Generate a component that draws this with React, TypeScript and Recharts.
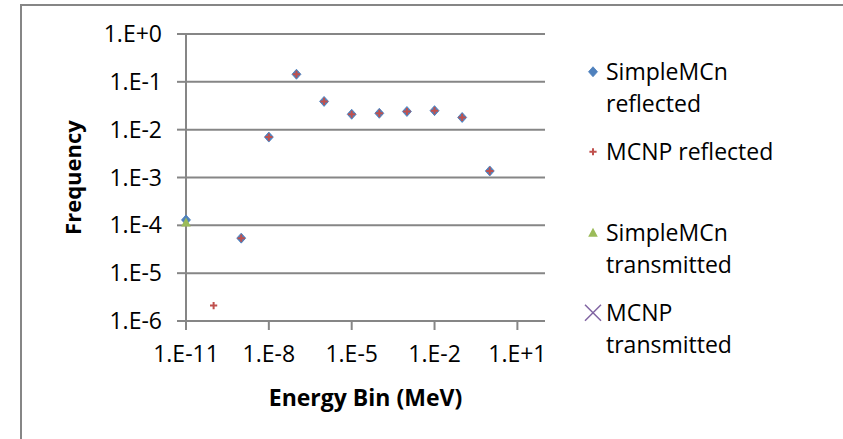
import { CartesianGrid, Legend, Scatter, ScatterChart, XAxis, YAxis } from "recharts";

// energy bin (MeV) of each tally point
const energyBins = [1e-11, 1e-10, 1e-9, 1e-8, 1e-7, 1e-6, 1e-5, 1e-4, 1e-3, 1e-2, 1e-1, 1];

// frequencies per bin, null where nothing was tallied
const simpleMCnReflected = [1.3e-4, null, 5.4e-5, 7.0e-3, 0.144, 0.039, 0.021, 0.022, 0.024, 0.025, 0.018, 1.37e-3];
const mcnpReflected = [null, 2.1e-6, 5.4e-5, 7.0e-3, 0.144, 0.039, 0.021, 0.022, 0.024, 0.025, 0.018, 1.37e-3];
const simpleMCnTransmitted = [1.15e-4, null, null, null, null, null, null, null, null, null, null, null];
const mcnpTransmitted = [null, null, null, null, null, null, null, null, null, null, null, null];

const seriesNames = ["SimpleMCn reflected", "MCNP reflected", "SimpleMCn transmitted", "MCNP transmitted"];

const xTicks = [1e-11, 1e-8, 1e-5, 1e-2, 1e1];
const yTicks = [1e-6, 1e-5, 1e-4, 1e-3, 1e-2, 1e-1, 1];

const WIDTH = 843;
const HEIGHT = 439;
const PLOT = { left: 186, top: 34, right: 545, bottom: 321 };
const Y_AXIS_W = 166;
const X_AXIS_H = 60;
const FONT = "'Open Sans', sans-serif";
const LINE = "#868686";

type Pt = { x: number; y: number };

const toPoints = (ys: (number | null)[]): Pt[] =>
  energyBins.flatMap((x, i) => {
    const y = ys[i];
    return y == null ? [] : [{ x, y }];
  });

const sciLabel = (v: number) => {
  const exp = Math.round(Math.log10(v));
  return `1.E${exp >= 0 ? "+" : ""}${exp}`;
};

type ShapeProps = { cx?: number; cy?: number };

const Diamond = ({ cx = 0, cy = 0 }: ShapeProps) => (
  <path
    d={`M${cx},${cy - 5}L${cx + 4.5},${cy}L${cx},${cy + 5}L${cx - 4.5},${cy}Z`}
    fill="#4F81BD"
    stroke="#4A7EBB"
    strokeWidth={0.8}
  />
);

const Plus = ({ cx = 0, cy = 0 }: ShapeProps) => (
  <path d={`M${cx - 3.6},${cy}H${cx + 3.6}M${cx},${cy - 3.6}V${cy + 3.6}`} stroke="#C0504D" strokeWidth={2} fill="none" />
);

const Triangle = ({ cx = 0, cy = 0 }: ShapeProps) => (
  <path d={`M${cx},${cy - 5}L${cx + 4.8},${cy + 4}L${cx - 4.8},${cy + 4}Z`} fill="#9BBB59" />
);

const Cross = ({ cx = 0, cy = 0 }: ShapeProps) => (
  <path
    d={`M${cx - 4},${cy - 4}L${cx + 4},${cy + 4}M${cx - 4},${cy + 4}L${cx + 4},${cy - 4}`}
    stroke="#8064A2"
    strokeWidth={1.5}
    fill="none"
  />
);

const BigCross = ({ cx = 0, cy = 0 }: ShapeProps) => (
  <path
    d={`M${cx - 8},${cy - 8}L${cx + 8},${cy + 8}M${cx - 8},${cy + 8}L${cx + 8},${cy - 8}`}
    stroke="#8064A2"
    strokeWidth={1.5}
    fill="none"
  />
);

const legendMarkers = [Diamond, Plus, Triangle, BigCross];
const legendTops = [56, 136, 217, 297];

function SeriesLegend() {
  return (
    <div
      style={{
        position: "relative",
        width: 260,
        height: HEIGHT,
        fontFamily: FONT,
        fontSize: 23,
        lineHeight: "31.5px",
        color: "#000",
      }}
    >
      {seriesNames.map((name, i) => {
        const Marker = legendMarkers[i];
        return (
          <div key={name} style={{ position: "absolute", left: 0, top: legendTops[i], display: "flex" }}>
            <svg width={26} height={31.5} style={{ flex: "none" }}>
              <Marker cx={13} cy={15.75} />
            </svg>
            <div style={{ width: 180 }}>{name}</div>
          </div>
        );
      })}
    </div>
  );
}

export default function App() {
  const plotMidY = (PLOT.top + PLOT.bottom) / 2;
  const plotMidX = (PLOT.left + PLOT.right) / 2;

  return (
    <div style={{ position: "absolute", left: 0, top: 0, width: WIDTH, height: HEIGHT, background: "#fff" }}>
      <div
        style={{
          position: "absolute",
          left: 20,
          top: 4,
          width: WIDTH - 20,
          height: HEIGHT - 4,
          boxSizing: "border-box",
          borderLeft: `2px solid ${LINE}`,
          borderTop: `2px solid ${LINE}`,
        }}
      />
      <ScatterChart
        width={WIDTH}
        height={HEIGHT}
        margin={{
          top: PLOT.top,
          right: WIDTH - PLOT.right,
          left: PLOT.left - Y_AXIS_W,
          bottom: HEIGHT - PLOT.bottom - X_AXIS_H,
        }}
        style={{ fontFamily: FONT }}
      >
        <CartesianGrid vertical={false} stroke={LINE} strokeWidth={2} />
        <XAxis
          dataKey="x"
          type="number"
          scale="log"
          domain={[1e-11, 1e2]}
          ticks={xTicks}
          interval={0}
          tickFormatter={sciLabel}
          height={X_AXIS_H}
          tickSize={9}
          tickMargin={16}
          axisLine={{ stroke: LINE, strokeWidth: 2 }}
          tickLine={{ stroke: LINE, strokeWidth: 2 }}
          tick={{ fill: "#000", fontSize: 23, fontFamily: FONT }}
          label={{
            content: () => (
              <text x={plotMidX} y={406} textAnchor="middle" fontFamily={FONT} fontSize={23} fontWeight={700} fill="#000">
                Energy Bin (MeV)
              </text>
            ),
          }}
        />
        <YAxis
          dataKey="y"
          type="number"
          scale="log"
          domain={[1e-6, 1]}
          ticks={yTicks}
          interval={0}
          tickFormatter={sciLabel}
          width={Y_AXIS_W}
          tickSize={9}
          tickMargin={15}
          axisLine={{ stroke: LINE, strokeWidth: 2 }}
          tickLine={{ stroke: LINE, strokeWidth: 2 }}
          tick={{ fill: "#000", fontSize: 23, fontFamily: FONT }}
          label={{
            content: () => (
              <text
                x={81}
                y={plotMidY}
                transform={`rotate(-90 81 ${plotMidY})`}
                textAnchor="middle"
                fontFamily={FONT}
                fontSize={22}
                fontWeight={700}
                fill="#000"
              >
                Frequency
              </text>
            ),
          }}
        />
        <Legend
          content={<SeriesLegend />}
          layout="horizontal"
          verticalAlign="middle"
          align="center"
          wrapperStyle={{ left: 580, top: 0, width: 260, height: HEIGHT }}
        />
        <Scatter name={seriesNames[0]} data={toPoints(simpleMCnReflected)} shape={Diamond} isAnimationActive={false} />
        <Scatter name={seriesNames[1]} data={toPoints(mcnpReflected)} shape={Plus} isAnimationActive={false} />
        <Scatter name={seriesNames[2]} data={toPoints(simpleMCnTransmitted)} shape={Triangle} isAnimationActive={false} />
        <Scatter name={seriesNames[3]} data={toPoints(mcnpTransmitted)} shape={Cross} isAnimationActive={false} />
      </ScatterChart>
    </div>
  );
}
